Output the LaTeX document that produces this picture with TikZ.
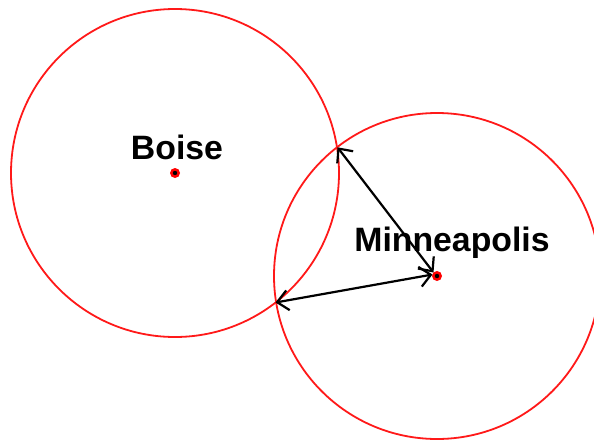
\documentclass[tikz,border=0pt]{standalone}
\usepackage{fontspec}
\setmainfont{Liberation Sans}
\usetikzlibrary{arrows.meta}
\begin{document}
\begin{tikzpicture}[x=1pt,y=-1pt,
  range/.style={draw=red!90, line width=1.8pt, circle, inner sep=0pt, minimum size=#1},
  city/.style={font=\bfseries\fontsize{33.8}{34}\selectfont, anchor=base, inner sep=0pt},
  tip/.style={Straight Barb[length=11pt,width=20pt,line width=2.2pt]},
  dist/.style={line width=2.2pt, {Straight Barb[length=11pt,width=20pt,line width=2.2pt]}-{Straight Barb[length=11pt,width=20pt,line width=2.2pt]}}
]
\useasboundingbox (0,0) rectangle (594,442);
\clip (0,0) rectangle (594,442);
% city centres
\coordinate (bc) at (175,173);
\coordinate (mc) at (437,276);
% ranges
\node[range=328pt] (boise) at (bc) {};
\node[range=326pt] (minn) at (mc) {};
% intersection points of the two ranges
\coordinate (p1) at (337.5,147.3);
\coordinate (p2) at (275.5,302.5);
% labels
\node[city] (lb) at (177,159) {Boise};
\node[city] (lm) at (452,251) {Minneapolis};
% distance arrows
\draw[dist] (p1) -- ([shift={(-3.5,-3.5)}]mc);
\draw[dist] (p2) -- ([shift={(-4.5,-1.5)}]mc);
% markers
\foreach \c in {bc,mc} {
  \fill[red] (\c) circle (5);
  \fill[black] (\c) circle (2.2);
}
\end{tikzpicture}
\end{document}
